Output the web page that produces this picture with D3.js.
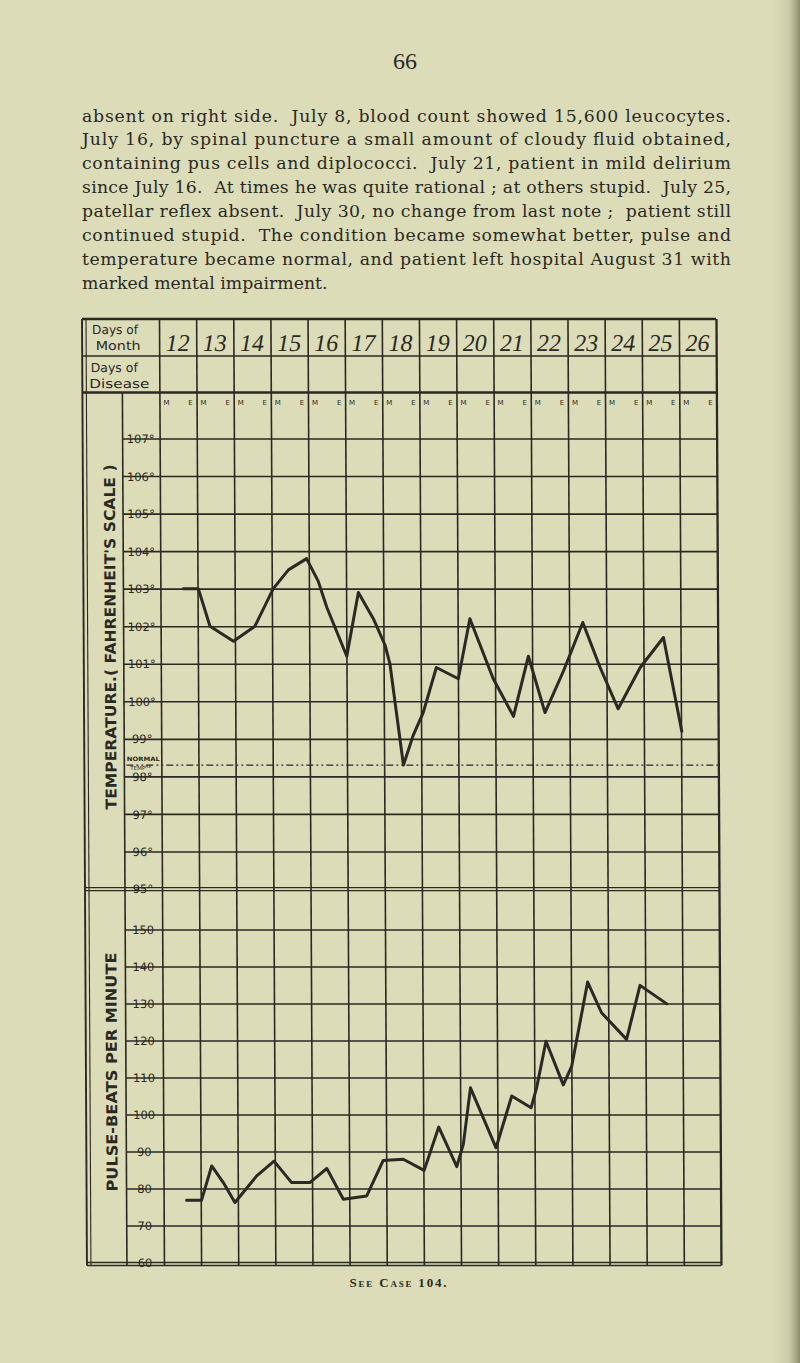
<!DOCTYPE html>
<html>
<head>
<meta charset="utf-8">
<script src="https://cdn.jsdelivr.net/npm/d3@7"></script>
<style>
html,body{margin:0;padding:0;background:#dcdcb9;}
svg{display:block;}
text{white-space:pre;}
</style>
</head>
<body>
<svg id="c" width="800" height="1363"></svg>
<script>
// ---------------- data ----------------
const pageNumber = "66";
const paragraph = [
  "absent on right side.  July 8, blood count showed 15,600 leucocytes.",
  "July 16, by spinal puncture a small amount of cloudy fluid obtained,",
  "containing pus cells and diplococci.  July 21, patient in mild delirium",
  "since July 16.  At times he was quite rational ; at others stupid.  July 25,",
  "patellar reflex absent.  July 30, no change from last note ;  patient still",
  "continued stupid.  The condition became somewhat better, pulse and",
  "temperature became normal, and patient left hospital August 31 with",
  "marked mental impairment."
];
const caption = "See Case 104.";

const days = [12, 13, 14, 15, 16, 17, 18, 19, 20, 21, 22, 23, 24, 25, 26];
const dayBoundaries = [12, 13, 14, 15, 16, 17, 18, 19, 20, 21, 22, 23, 24, 25, 26, 27];
const halfDayLabels = ["M", "E"];
const tempTicks = [107, 106, 105, 104, 103, 102, 101, 100, 99, 98, 97, 96, 95];
const pulseTicks = [150, 140, 130, 120, 110, 100, 90, 80, 70, 60];
const normalTemp = 98.3;

// temperature trace: time in days (fractional), degrees F
const tempTime  = [12.62, 13.02, 13.33, 13.96, 14.54, 15.04, 15.45, 15.94, 16.25, 16.48, 17.01, 17.33, 17.73, 18.04, 18.17, 18.52, 18.79, 19.06, 19.42, 20.01, 20.33, 20.95, 21.49, 21.90, 22.34, 22.84, 23.37, 23.83, 24.31, 24.91, 25.54, 26.02];
const tempValue = [103.0, 103.0, 102.0, 101.6, 102.0, 103.0, 103.5, 103.8, 103.2, 102.5, 101.2, 102.9, 102.2, 101.5, 101.0, 98.3, 99.1, 99.7, 100.9, 100.6, 102.2, 100.6, 99.6, 101.2, 99.7, 100.8, 102.1, 100.9, 99.8, 100.9, 101.7, 99.2];

// pulse trace: time in days (fractional), beats per minute
const pulseTime  = [12.62, 13.02, 13.30, 13.61, 13.92, 14.51, 14.98, 15.45, 15.94, 16.40, 16.84, 17.47, 17.92, 18.46, 19.02, 19.42, 19.90, 20.08, 20.28, 20.96, 21.39, 21.91, 22.06, 22.32, 22.78, 23.01, 23.45, 23.82, 24.49, 24.86, 25.58];
const pulseValue = [76.8, 76.8, 86.1, 81.6, 76.2, 83.4, 87.4, 81.6, 81.6, 85.4, 77.1, 78.0, 87.6, 87.9, 84.9, 96.6, 85.9, 92.0, 107.2, 91.0, 105.0, 101.8, 107.2, 119.8, 108.0, 113.1, 135.8, 127.5, 120.3, 134.9, 129.9];

// ---------------- drawing ----------------
const W = 800, H = 1363;
const ink = "#2a2923";
const paper = "#dcdcb9";
const svg = d3.select("#c");

const defs = svg.append("defs");
const grad = defs.append("linearGradient").attr("id", "edge")
  .attr("x1", 0).attr("x2", 1).attr("y1", 0).attr("y2", 0);
grad.append("stop").attr("offset", 0).attr("stop-color", "#6d6d48").attr("stop-opacity", 0);
grad.append("stop").attr("offset", 0.6).attr("stop-color", "#6d6d48").attr("stop-opacity", 0.15);
grad.append("stop").attr("offset", 1).attr("stop-color", "#5a5a3a").attr("stop-opacity", 0.6);

svg.append("rect").attr("width", W).attr("height", H).attr("fill", paper);
svg.append("rect").attr("x", 772).attr("width", 28).attr("height", H).attr("fill", "url(#edge)");

// page number
svg.append("text").attr("x", 405).attr("y", 69).attr("text-anchor", "middle")
  .attr("font-family", "Liberation Serif").attr("font-size", 24).attr("fill", ink)
  .text(pageNumber);

// paragraph
svg.append("g").selectAll("text").data(paragraph).join("text")
  .attr("x", 82).attr("y", (d, i) => 121.5 + i * 23.9)
  .attr("font-family", "DejaVu Serif").attr("font-size", 17.3).attr("fill", ink)
  .each(function (d, i) {
    const t = d3.select(this).text(d);
    if (i < paragraph.length - 1) t.attr("textLength", 649).attr("lengthAdjust", "spacing");
  });

// ---------------- chart ----------------
const top0 = 319;
const chart = svg.append("g")
  .attr("transform", `translate(0,${top0}) skewX(0.3) translate(0,${-top0})`);

const x = d3.scaleLinear().domain([12, 27]).range([159, 716]);
const xb = d3.scaleBand().domain(days).range([159, 716]);
const yT = d3.scaleLinear().domain([107, 95]).range([438.5, 889]);
const yP = d3.scaleLinear().domain([150, 60]).range([929.5, 1262.5]);
const bottom = yP(60);

const sw = 1.6;
const tickFont = 11.5;

// temperature horizontal grid via axis
const tAxis = chart.append("g").attr("transform", "translate(122,0)")
  .call(d3.axisRight(yT).tickValues(tempTicks.slice(0, -1)).tickSize(716 - 122).tickFormat(d => d + "°"));
tAxis.select(".domain").remove();
tAxis.selectAll("line").attr("stroke", ink).attr("stroke-width", sw);
tAxis.selectAll("text").attr("x", 18).attr("dy", "0.36em").attr("text-anchor", "middle")
  .attr("font-family", "DejaVu Sans").attr("font-size", tickFont).attr("fill", ink);

// pulse horizontal grid via axis
const pAxis = chart.append("g").attr("transform", "translate(122,0)")
  .call(d3.axisRight(yP).tickValues(pulseTicks.slice(0, -1)).tickSize(716 - 122).tickFormat(d => d));
pAxis.select(".domain").remove();
pAxis.selectAll("line").attr("stroke", ink).attr("stroke-width", sw);
pAxis.selectAll("text").attr("x", 18).attr("dy", "0.36em").attr("text-anchor", "middle")
  .attr("font-family", "DejaVu Sans").attr("font-size", tickFont).attr("fill", ink);

// bottom tick label (60) and 95° label
chart.append("text").attr("x", 140).attr("y", bottom).attr("dy", "0.36em").attr("text-anchor", "middle")
  .attr("font-family", "DejaVu Sans").attr("font-size", tickFont).attr("fill", ink).text(pulseTicks[pulseTicks.length - 1]);
chart.append("text").attr("x", 140).attr("y", yT(95)).attr("dy", "0.36em").attr("text-anchor", "middle")
  .attr("font-family", "DejaVu Sans").attr("font-size", tickFont).attr("fill", ink).text(tempTicks[tempTicks.length - 1] + "°");

// vertical day boundaries via axis
const vAxis = chart.append("g").attr("transform", `translate(0,${top0})`)
  .call(d3.axisBottom(x).tickValues(dayBoundaries).tickSize(bottom + 3 - top0).tickFormat(""));
vAxis.select(".domain").remove();
vAxis.selectAll("line").attr("stroke", ink).attr("stroke-width", (d) => d === 27 ? 2.3 : sw);

// inner label column line
chart.append("line").attr("x1", 122).attr("x2", 122).attr("y1", 393).attr("y2", bottom + 3)
  .attr("stroke", ink).attr("stroke-width", sw);
// outer left double border
[82, 86].forEach((xx, i) => chart.append("line").attr("x1", xx).attr("x2", xx)
  .attr("y1", top0).attr("y2", bottom + 3).attr("stroke", ink).attr("stroke-width", i ? 1.1 : 1.9));

// header horizontal rules
chart.append("line").attr("x1", 82).attr("x2", 716).attr("y1", top0).attr("y2", top0)
  .attr("stroke", ink).attr("stroke-width", 2.5);
chart.append("line").attr("x1", 82).attr("x2", 716).attr("y1", 356).attr("y2", 356)
  .attr("stroke", ink).attr("stroke-width", sw);
chart.append("line").attr("x1", 82).attr("x2", 716).attr("y1", 392.5).attr("y2", 392.5)
  .attr("stroke", ink).attr("stroke-width", 2.5);
// double line between sections and at bottom
[yT(95) - 1.3, yT(95) + 1.6].forEach(yy => chart.append("line").attr("x1", 82).attr("x2", 716)
  .attr("y1", yy).attr("y2", yy).attr("stroke", ink).attr("stroke-width", 1.2));
[bottom, bottom + 3].forEach(yy => chart.append("line").attr("x1", 82).attr("x2", 716)
  .attr("y1", yy).attr("y2", yy).attr("stroke", ink).attr("stroke-width", 1.5));

// header text
const hdr = chart.append("g").attr("font-family", "DejaVu Sans").attr("font-size", 12.5).attr("fill", ink)
  .attr("text-anchor", "middle");
hdr.append("text").attr("x", 115).attr("y", 334).attr("textLength", 46).attr("lengthAdjust", "spacingAndGlyphs").text("Days of");
hdr.append("text").attr("x", 118).attr("y", 350).attr("textLength", 45).attr("lengthAdjust", "spacingAndGlyphs").text("Month");
hdr.append("text").attr("x", 114).attr("y", 372).attr("textLength", 47).attr("lengthAdjust", "spacingAndGlyphs").text("Days of");
hdr.append("text").attr("x", 119).attr("y", 388).attr("textLength", 60).attr("lengthAdjust", "spacingAndGlyphs").text("Disease");

// day labels via band axis
const dAxis = chart.append("g").attr("transform", "translate(0,351)")
  .call(d3.axisTop(xb).tickSize(0).tickFormat(d => d));
dAxis.select(".domain").remove();
dAxis.selectAll("text").attr("y", 0).attr("dy", 0)
  .attr("font-family", "Liberation Serif").attr("font-style", "italic").attr("font-size", 24)
  .attr("fill", ink);

// M / E labels
const me = chart.append("g").attr("font-family", "DejaVu Sans").attr("font-size", 7).attr("fill", ink)
  .attr("text-anchor", "middle");
days.forEach(d => {
  me.append("text").attr("x", x(d) + 7).attr("y", 405).text(halfDayLabels[0]);
  me.append("text").attr("x", x(d + 1) - 6).attr("y", 405).text(halfDayLabels[1]);
});

// normal temperature
chart.append("line").attr("x1", 124).attr("x2", 716).attr("y1", yT(normalTemp)).attr("y2", yT(normalTemp))
  .attr("stroke", ink).attr("stroke-width", 1.4).attr("stroke-dasharray", "7,3,2,3,2,3");
chart.append("text").attr("x", 141).attr("y", yT(normalTemp) - 4).attr("text-anchor", "middle")
  .attr("font-family", "DejaVu Sans").attr("font-weight", "bold").attr("font-size", 6)
  .attr("textLength", 33).attr("lengthAdjust", "spacingAndGlyphs").attr("fill", ink).text("NORMAL");
const tmp = chart.append("text").attr("x", 128).attr("y", yT(normalTemp) + 5)
  .attr("font-family", "DejaVu Sans").attr("font-size", 5.5).attr("fill", ink);
tmp.append("tspan").text("TEMP");
tmp.append("tspan").attr("font-size", 4.5).attr("dy", -2.5).text("RE");

// side labels
chart.append("text").attr("transform", "translate(109,637) rotate(-90)")
  .attr("text-anchor", "middle").attr("dominant-baseline", "central")
  .attr("font-family", "DejaVu Sans").attr("font-weight", "bold").attr("font-size", 15)
  .attr("textLength", 345).attr("lengthAdjust", "spacingAndGlyphs").attr("fill", ink)
  .text("TEMPERATURE.( FAHRENHEIT'S SCALE )");
chart.append("text").attr("transform", "translate(108,1072) rotate(-90)")
  .attr("text-anchor", "middle").attr("dominant-baseline", "central")
  .attr("font-family", "DejaVu Sans").attr("font-weight", "bold").attr("font-size", 15)
  .attr("textLength", 239).attr("lengthAdjust", "spacingAndGlyphs").attr("fill", ink)
  .text("PULSE-BEATS PER MINUTE");

// traces
const tempData = tempTime.map((t, i) => ({ t, v: tempValue[i] }));
const pulseData = pulseTime.map((t, i) => ({ t, v: pulseValue[i] }));
chart.append("path").datum(tempData)
  .attr("d", d3.line().x(d => x(d.t)).y(d => yT(d.v)))
  .attr("fill", "none").attr("stroke", ink).attr("stroke-width", 3)
  .attr("stroke-linejoin", "round").attr("stroke-linecap", "round");
chart.append("path").datum(pulseData)
  .attr("d", d3.line().x(d => x(d.t)).y(d => yP(d.v)))
  .attr("fill", "none").attr("stroke", ink).attr("stroke-width", 3)
  .attr("stroke-linejoin", "round").attr("stroke-linecap", "round");

// caption
svg.append("text").attr("x", 398).attr("y", 1287).attr("text-anchor", "middle")
  .attr("font-family", "Liberation Serif").attr("font-weight", "bold").attr("font-size", 13)
  .style("font-variant", "small-caps").attr("textLength", 97).attr("lengthAdjust", "spacing")
  .attr("fill", ink).text(caption);
</script>
</body>
</html>
